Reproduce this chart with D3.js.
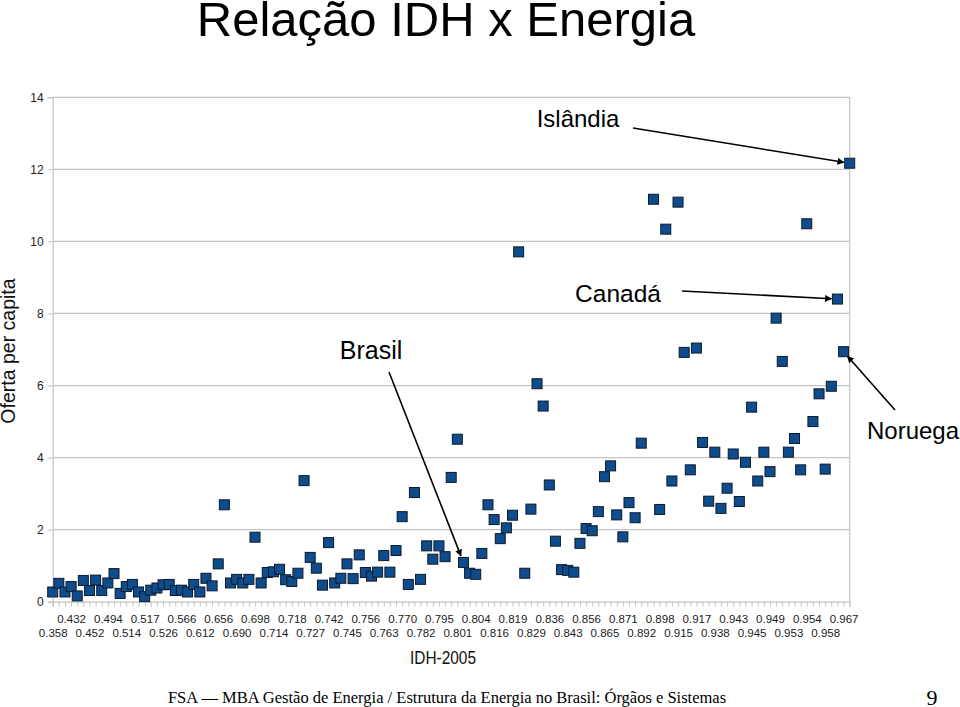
<!DOCTYPE html>
<html>
<head>
<meta charset="utf-8">
<script src="https://cdn.jsdelivr.net/npm/d3@7/dist/d3.min.js"></script>
<style>
  html, body { margin: 0; padding: 0; background: #fff; }
  svg { display: block; }
</style>
</head>
<body>
<svg id="chart" width="960" height="707"></svg>
<script>
// ---- Data ----
const chartTitle = "Relação IDH x Energia";
const yTitle = "Oferta per capita";
const xTitle = "IDH-2005";
// Energy supply per capita, one value per country, countries sorted by IDH (null = no marker)
const energyValues = [
  0.27, 0.51, 0.27, 0.42, 0.16, 0.59, 0.31, 0.60, 0.31, 0.52,
  0.78, 0.23, 0.42, 0.48, 0.27, 0.14, 0.32, 0.38, 0.47, 0.48,
  0.31, 0.32, 0.27, 0.48, 0.27, 0.65, 0.44, 1.05, 2.69, 0.52,
  0.62, 0.52, 0.62, 1.79, 0.52, 0.81, 0.83, 0.90, 0.61, 0.56,
  0.79, 3.36, 1.23, 0.93, 0.46, 1.64, 0.52, 0.65, 1.05, 0.64,
  1.30, 0.81, 0.71, 0.82, 1.28, 0.82, 1.42, 2.36, 0.48, 3.03,
  0.62, 1.55, 1.18, 1.55, 1.25, 3.45, 4.51, 1.09, 0.79, 0.76,
  1.34, 2.69, 2.28, 1.75, 2.05, 2.40, 9.71, 0.79, 2.57, 6.05,
  5.43, 3.24, 1.68, 0.89, 0.87, 0.82, 1.62, 2.03, 1.97, 2.50,
  3.47, 3.77, 2.41, 1.80, 2.75, 2.33, 4.40, null, 11.17, 2.56,
  10.34, 3.35, 11.09, 6.92, 3.66, 7.04, 4.42, 2.79, 4.15, 2.59,
  3.15, 4.10, 2.78, 3.87, 5.40, 3.35, 4.15, 3.61, 7.87, 6.67,
  4.15, 4.53, 3.66, 10.49, 5.00, 5.77, 3.68, 5.98, 8.40, 6.94,
  12.17
];
// IDH labels shown under every third category
const xTickLabels = [
  "0.358", "0.432", "0.452", "0.494", "0.514", "0.517", "0.526", "0.566",
  "0.612", "0.656", "0.690", "0.698", "0.714", "0.718", "0.727", "0.742",
  "0.745", "0.756", "0.763", "0.770", "0.782", "0.795", "0.801", "0.804",
  "0.816", "0.819", "0.829", "0.836", "0.843", "0.856", "0.865", "0.871",
  "0.892", "0.898", "0.915", "0.917", "0.938", "0.943", "0.945", "0.949",
  "0.953", "0.954", "0.958", "0.967"
];
const labelEvery = 3;
const yTicks = [0, 2, 4, 6, 8, 10, 12, 14];
// Highlighted countries: label text and category index
const highlights = [
  { name: "Islândia", index: 130 },
  { name: "Canadá",   index: 128 },
  { name: "Noruega",  index: 129 },
  { name: "Brasil",   index: 67 }
];
const footerText = "FSA — MBA Gestão de Energia / Estrutura da Energia no Brasil: Órgãos e Sistemas";
const pageNumber = "9";

// ---- Layout ----
const W = 960, H = 707;
const plot = { left: 52.7, right: 849.7, top: 97.3, bottom: 601.7 };
const sans = "'Liberation Sans', Arial, Helvetica, sans-serif";
const serif = "'Liberation Serif', 'Times New Roman', serif";

const svg = d3.select("#chart");
svg.append("rect").attr("width", W).attr("height", H).attr("fill", "#fff");

const x = d3.scalePoint()
  .domain(d3.range(energyValues.length))
  .range([plot.left, plot.right]);
const y = d3.scaleLinear().domain([0, 14]).range([plot.bottom, plot.top]);

// Title
svg.append("text")
  .attr("x", 446).attr("y", 36)
  .attr("text-anchor", "middle")
  .attr("font-family", sans).attr("font-size", 49)
  .attr("fill", "#000")
  .text(chartTitle);

// Gridlines
svg.append("g").selectAll("line")
  .data(yTicks.filter(d => d > 0))
  .join("line")
  .attr("x1", plot.left).attr("x2", plot.right)
  .attr("y1", d => y(d)).attr("y2", d => y(d))
  .attr("stroke", "#c4c4c4").attr("stroke-width", 1.2);

// Right border
svg.append("line")
  .attr("x1", plot.right).attr("x2", plot.right)
  .attr("y1", plot.top).attr("y2", plot.bottom)
  .attr("stroke", "#c4c4c4").attr("stroke-width", 1.2);

// Y axis
const yAxis = svg.append("g")
  .attr("transform", `translate(${plot.left},0)`)
  .call(d3.axisLeft(y).tickValues(yTicks).tickSize(5).tickPadding(4).tickFormat(d3.format("d")));
yAxis.select(".domain").attr("stroke", "#c4c4c4").attr("stroke-width", 1.2);
yAxis.selectAll(".tick line").attr("stroke", "#c4c4c4");
yAxis.selectAll(".tick text")
  .attr("font-family", sans).attr("font-size", 12).attr("fill", "#222");

// X axis ticks (every category)
const xAxis = svg.append("g")
  .attr("transform", `translate(0,${plot.bottom})`)
  .call(d3.axisBottom(x).tickSize(5).tickFormat(""));
xAxis.select(".domain").attr("stroke", "#c4c4c4").attr("stroke-width", 1.2);
xAxis.selectAll(".tick line").attr("stroke", "#c4c4c4");

// X labels (every third category, alternating rows)
const labelIdx = xTickLabels.map((_, j) => j * labelEvery);
const xLab = svg.append("g")
  .attr("transform", `translate(0,${plot.bottom})`)
  .call(d3.axisBottom(x).tickValues(labelIdx).tickSize(0)
    .tickFormat(d => xTickLabels[d / labelEvery]));
xLab.select(".domain").remove();
xLab.selectAll(".tick text")
  .attr("font-family", sans).attr("font-size", 11.5).attr("fill", "#222")
  .attr("y", (d) => ((d / labelEvery) % 2 === 1) ? 13 : 27)
  .attr("dy", "0.71em");

// Axis titles
svg.append("text")
  .attr("x", 443).attr("y", 664)
  .attr("text-anchor", "middle")
  .attr("font-family", sans).attr("font-size", 19)
  .attr("textLength", 66).attr("lengthAdjust", "spacingAndGlyphs")
  .attr("fill", "#111")
  .text(xTitle);

svg.append("text")
  .attr("transform", "translate(15,351) rotate(-90)")
  .attr("text-anchor", "middle")
  .attr("font-family", sans).attr("font-size", 19.5)
  .attr("fill", "#111")
  .text(yTitle);

// Markers
const ms = 10;
svg.append("g").selectAll("rect")
  .data(energyValues.map((v, i) => ({ i, v })).filter(d => d.v !== null))
  .join("rect")
  .attr("x", d => x(d.i) - ms / 2)
  .attr("y", d => y(d.v) - ms / 2)
  .attr("width", ms).attr("height", ms)
  .attr("fill", "#0f4c8c")
  .attr("stroke", "#0b1a2e").attr("stroke-width", 1);

// Arrow marker
svg.append("defs").append("marker")
  .attr("id", "arrow")
  .attr("viewBox", "0 0 10 10")
  .attr("refX", 9).attr("refY", 5)
  .attr("markerWidth", 7).attr("markerHeight", 7)
  .attr("markerUnits", "userSpaceOnUse")
  .attr("orient", "auto")
  .append("path").attr("d", "M0,0 L10,5 L0,10 z").attr("fill", "#000");

// Annotations: label position and arrow start (layout), arrow end at the data point
const annLayout = {
  "Islândia": { tx: 578, ty: 127, size: 24, sx: 633, sy: 128, gap: 6 },
  "Canadá":   { tx: 618, ty: 302, size: 24.5, sx: 682, sy: 291, gap: 6 },
  "Noruega":  { tx: 913, ty: 439, size: 24, sx: 895, sy: 410, gap: 6 },
  "Brasil":   { tx: 371, ty: 359, size: 25, sx: 389, sy: 372, gap: 7 }
};
highlights.forEach(h => {
  const L = annLayout[h.name];
  const px = x(h.index), py = y(energyValues[h.index]);
  const dx = px - L.sx, dy = py - L.sy;
  const len = Math.hypot(dx, dy);
  const ex = px - dx / len * L.gap, ey = py - dy / len * L.gap;
  svg.append("line")
    .attr("x1", L.sx).attr("y1", L.sy).attr("x2", ex).attr("y2", ey)
    .attr("stroke", "#000").attr("stroke-width", 1.6)
    .attr("marker-end", "url(#arrow)");
  svg.append("text")
    .attr("x", L.tx).attr("y", L.ty)
    .attr("text-anchor", "middle")
    .attr("font-family", sans).attr("font-size", L.size)
    .attr("fill", "#000")
    .text(h.name);
});

// Footer
svg.append("text")
  .attr("x", 447).attr("y", 703)
  .attr("text-anchor", "middle")
  .attr("font-family", serif).attr("font-size", 16.5)
  .attr("fill", "#000")
  .text(footerText);
svg.append("text")
  .attr("x", 932).attr("y", 705)
  .attr("text-anchor", "middle")
  .attr("font-family", serif).attr("font-size", 22)
  .attr("fill", "#000")
  .text(pageNumber);
</script>
</body>
</html>
